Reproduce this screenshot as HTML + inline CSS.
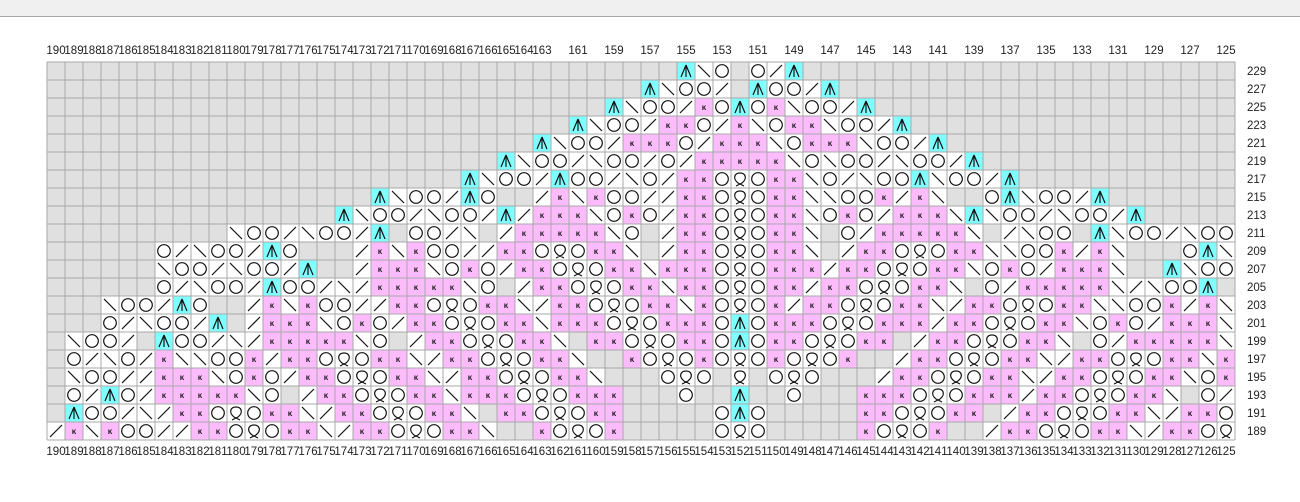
<!DOCTYPE html>
<html><head><meta charset="utf-8">
<style>
html,body{margin:0;padding:0;background:#fff;width:1300px;height:502px;overflow:hidden;font-family:"Liberation Sans",sans-serif;}
#bar{position:absolute;left:0;top:0;width:1300px;height:16px;background:#f0f0f0;border-bottom:1px solid #a8a8a8;}
svg{position:absolute;left:0;top:0;}
</style></head><body>
<div id="bar"></div>
<svg id="s" width="1300" height="502" xmlns="http://www.w3.org/2000/svg"></svg>
<script>
var rows=[
"35.Abo.o/A24.",
"33.Aboo/.Aoo/A22.",
"31.Aboo/koAokboo/A20.",
"29.Aboo/kko/kbokkboo/A18.",
"27.Aboo/kkko/kkkbokkkboo/A16.",
"25.Aboo/boo/o/5kboboo/boo/A14.",
"23.Aboo/Aoo/bo/kkoqokkbo/booAboo/A12.",
"18.Aboo/Ao../kbkoo//kkoqokkbbook/kb..oAboo/A7.",
"16.Aboo/boo/A/kkkboko/kkoqokkboko/kkkbAboo/boo/A5.",
"10.boo/boo/A.oo/b./5kbo./kkoqokkb.o/5kb./boo.Aboo/boo",
"6.o/boo/Ao3./kbkoo//kkoqokkb./kkoqokkb./kkoqokkbbook/kb3.oAb",
"6.boo/boo/A../kkkboko/kkoqokkbkkkoqokkk/kkoqokkbokо/kkkb..Aboo",
"6.o/boo/Aoo/b/5kbo./kkoqokkbkkoqokk/kkoqokkb.o/5kb/booA.",
"3.boo/Ao../kbkoo//kkoqokkb/kkoqokkbkoqok/kkoqokkb/kkoqokkbbook/kb",
"3.o/boo/A./kkkboko/kkoqokkbkkkoqokkkoAokkkoqokkk/kkoqokkboko/kkkb",
".boo/.Aoo/b/5kbo./kkoqokkb.kkoqokkoAokkoqokk./kkoqokkb.o/5kb",
".o/bo/kbbook/kkoqokkb/kkoqokkb..koqokoqokoqok../kkoqokkb/kkoqokkbk",
".boo//kkkboko/kkoqokkb/kkoqokkb3.oqo.q.oqo3./kkoqokkb/kkoqokkbok",
".o/Ao/5kbo./kkoqokkbkkkoqokkk3.o..A..o3.kkkoqokkk/kkoqokkb.o/",
".Aoo/b/kkoqokkb/kkoqokkb.kkoqokk5.oAo5.kkoqokk./kkoqokkb/kko",
"/kbkoo//kkoqokkb/kkoqokkb..koqok5.oqo5.koqok../kkoqokkb/kkoq"
];
var X0=47,Y0=62,C=18,N=66;
var h=[];
function parse(s){s=s.replace(/о/g,'o');var out=[],re=/(\d*)(.)/g,m;while((m=re.exec(s))){var n=m[1]?parseInt(m[1]):1;for(var i=0;i<n;i++)out.push(m[2]);}while(out.length<N)out.push('.');return out.slice(0,N);}
rows.forEach(function(s,r){
 var cells=parse(s);
 cells.forEach(function(ch,c){
  var x=X0+c*C,y=Y0+r*C,cx=x+9,cy=y+9;
  var fill=ch=='.'?'#e0e0e0':ch=='k'?'#fcbcfc':ch=='A'?'#80ffff':'#ffffff';
  h.push('<rect x="'+x+'" y="'+y+'" width="18" height="18" fill="'+fill+'"/>');
  if(ch=='/')h.push('<line x1="'+(x+3)+'" y1="'+(y+15)+'" x2="'+(x+15)+'" y2="'+(y+3)+'" stroke="#111" stroke-width="1.2"/>');
  else if(ch=='b')h.push('<line x1="'+(x+3)+'" y1="'+(y+3)+'" x2="'+(x+15)+'" y2="'+(y+15)+'" stroke="#111" stroke-width="1.2"/>');
  else if(ch=='o')h.push('<circle cx="'+cx+'" cy="'+cy+'" r="6.3" fill="none" stroke="#111" stroke-width="1.2"/>');
  else if(ch=='q')h.push('<path d="M'+(cx-2)+' '+(y+13)+' C'+(cx-8)+' '+(y+8)+' '+(cx-5)+' '+(y+3)+' '+cx+' '+(y+3)+' C'+(cx+5)+' '+(y+3)+' '+(cx+8)+' '+(y+8)+' '+(cx+2)+' '+(y+13)+' M'+(cx-2)+' '+(y+13)+' L'+(cx+4)+' '+(y+16)+' M'+(cx+2)+' '+(y+13)+' L'+(cx-4)+' '+(y+16)+'" fill="none" stroke="#111" stroke-width="1.2"/>');
  else if(ch=='k')h.push('<text x="'+cx+'" y="'+(cy+3)+'" font-size="8" font-weight="bold" text-anchor="middle" fill="#222">κ</text>');
  else if(ch=='A')h.push('<path d="M'+cx+' '+(y+3)+' L'+(x+4)+' '+(y+15)+' M'+cx+' '+(y+3)+' L'+(x+14)+' '+(y+15)+' M'+cx+' '+(y+3)+' L'+cx+' '+(y+15)+'" fill="none" stroke="#111" stroke-width="1.2"/>');
 });
});
for(var i=0;i<=N;i++){var x=X0+i*C;h.push('<line x1="'+x+'" y1="'+Y0+'" x2="'+x+'" y2="'+(Y0+21*C)+'" stroke="#a9a9a9" stroke-width="1"/>');}
for(var j=0;j<=21;j++){var y=Y0+j*C;h.push('<line x1="'+X0+'" y1="'+y+'" x2="'+(X0+N*C)+'" y2="'+y+'" stroke="#a9a9a9" stroke-width="1"/>');}
for(var c=0;c<N;c++){
 var num=190-c,cx=X0+c*C+9;
 if(num>=163||num%2==1)h.push('<text x="'+cx+'" y="54" font-size="11.5" text-anchor="middle" fill="#222" font-family="Liberation Sans">'+num+'</text>');
 h.push('<text x="'+cx+'" y="455" font-size="11.5" text-anchor="middle" fill="#222" font-family="Liberation Sans">'+num+'</text>');
}
for(var r=0;r<21;r++){h.push('<text x="1247" y="'+(Y0+r*C+13)+'" font-size="11.5" fill="#222" font-family="Liberation Sans">'+(229-2*r)+'</text>');}
document.getElementById('s').innerHTML=h.join('');
</script>
</body></html>
